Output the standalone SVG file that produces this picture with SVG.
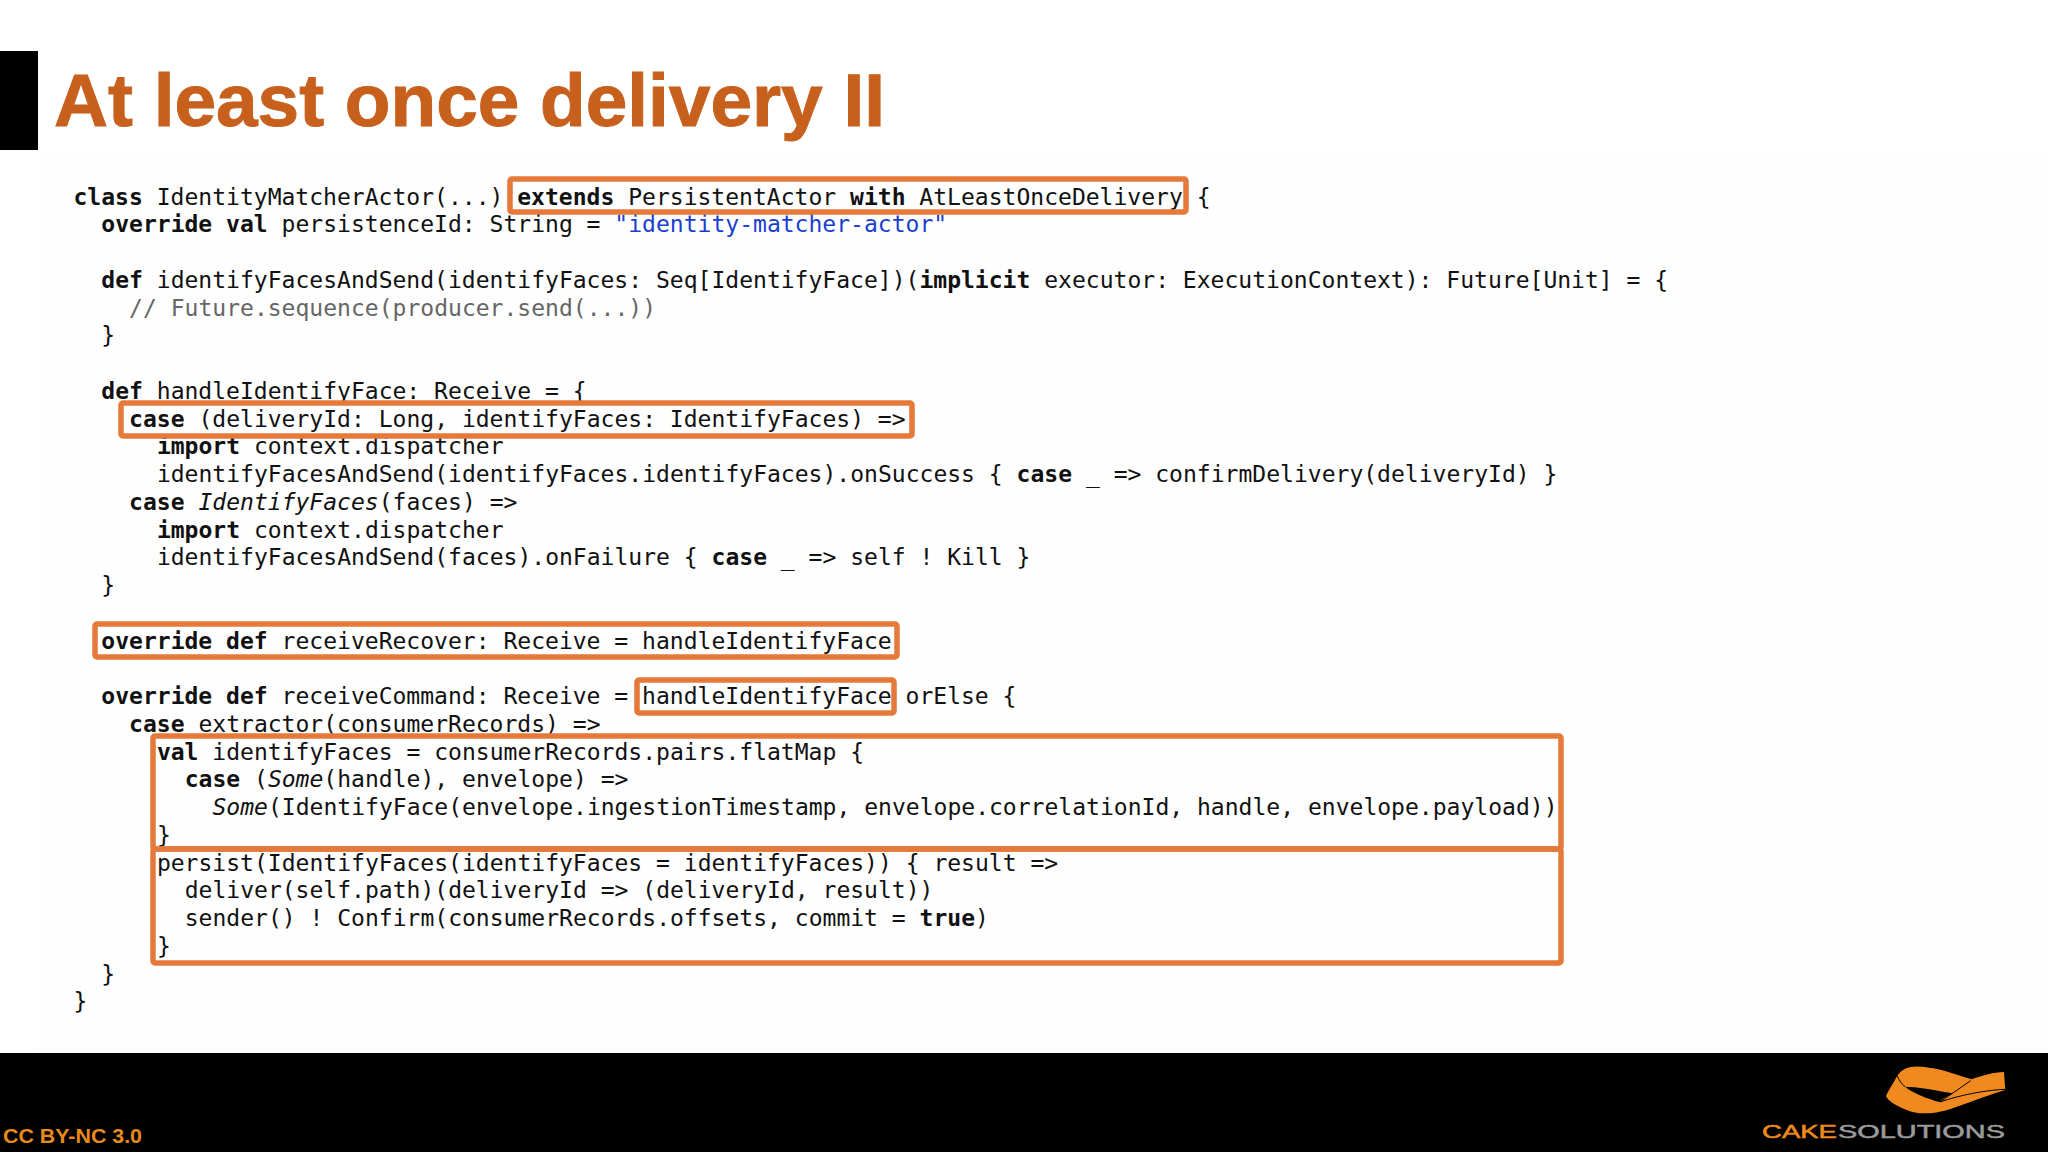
<svg xmlns="http://www.w3.org/2000/svg" width="2048" height="1152" viewBox="0 0 2048 1152">
<style>
.c{font-family:"DejaVu Sans Mono","Liberation Mono",monospace;font-size:23.04px;fill:#111;white-space:pre}
.c .b{font-weight:bold}
.c .i{font-style:italic}
.box{fill:none;stroke:#e5793a;stroke-width:5.5;stroke-linejoin:round}
.sans{font-family:"Liberation Sans",Arial,sans-serif}
</style>
<rect width="2048" height="1152" fill="#fff"/>
<rect x="38" y="150" width="2010" height="903" fill="#fefefe"/>
<rect id="title-bar" x="0" y="51" width="38" height="99" fill="#000"/>
<text id="title" class="sans" x="54" y="126" font-size="75" font-weight="bold" fill="#c8601d" stroke="#c8601d" stroke-width="1" textLength="831" lengthAdjust="spacingAndGlyphs">At least once delivery II</text>
<g id="code">
<text class="c" x="73.5" y="204.5"><tspan class="b">class</tspan> IdentityMatcherActor(...) <tspan class="b">extends</tspan> PersistentActor <tspan class="b">with</tspan> AtLeastOnceDelivery {</text>
<text class="c" x="101.3" y="232.3"><tspan class="b">override val</tspan> persistenceId: String = <tspan fill="#1a3fd0">"identity-matcher-actor"</tspan></text>
<text class="c" x="101.3" y="287.8"><tspan class="b">def</tspan> identifyFacesAndSend(identifyFaces: Seq[IdentifyFace])(<tspan class="b">implicit</tspan> executor: ExecutionContext): Future[Unit] = {</text>
<text class="c" x="129.1" y="315.5" style="fill:#666">// Future.sequence(producer.send(...))</text>
<text class="c" x="101.3" y="343.3">}</text>
<text class="c" x="101.3" y="398.8"><tspan class="b">def</tspan> handleIdentifyFace: Receive = {</text>
<text class="c" x="129.1" y="426.5"><tspan class="b">case</tspan> (deliveryId: Long, identifyFaces: IdentifyFaces) =&gt;</text>
<text class="c" x="156.9" y="454.3"><tspan class="b">import</tspan> context.dispatcher</text>
<text class="c" x="156.9" y="482"><tspan class="b"></tspan>identifyFacesAndSend(identifyFaces.identifyFaces).onSuccess { <tspan class="b">case</tspan> _ =&gt; confirmDelivery(deliveryId) }</text>
<text class="c" x="129.1" y="509.8"><tspan class="b">case</tspan> <tspan class="i">IdentifyFaces</tspan>(faces) =&gt;</text>
<text class="c" x="156.9" y="537.5"><tspan class="b">import</tspan> context.dispatcher</text>
<text class="c" x="156.9" y="565.3">identifyFacesAndSend(faces).onFailure { <tspan class="b">case</tspan> _ =&gt; self ! Kill }</text>
<text class="c" x="101.3" y="593">}</text>
<text class="c" x="101.3" y="648.5"><tspan class="b">override def</tspan> receiveRecover: Receive = handleIdentifyFace</text>
<text class="c" x="101.3" y="704"><tspan class="b">override def</tspan> receiveCommand: Receive = handleIdentifyFace orElse {</text>
<text class="c" x="129.1" y="731.8"><tspan class="b">case</tspan> extractor(consumerRecords) =&gt;</text>
<text class="c" x="156.9" y="759.5"><tspan class="b">val</tspan> identifyFaces = consumerRecords.pairs.flatMap {</text>
<text class="c" x="184.7" y="787.3"><tspan class="b">case</tspan> (<tspan class="i">Some</tspan>(handle), envelope) =&gt;</text>
<text class="c" x="212.5" y="815"><tspan class="i">Some</tspan>(IdentifyFace(envelope.ingestionTimestamp, envelope.correlationId, handle, envelope.payload))</text>
<text class="c" x="156.9" y="842.8">}</text>
<text class="c" x="156.9" y="870.5">persist(IdentifyFaces(identifyFaces = identifyFaces)) { result =&gt;</text>
<text class="c" x="184.7" y="898.3">deliver(self.path)(deliveryId =&gt; (deliveryId, result))</text>
<text class="c" x="184.7" y="926">sender() ! Confirm(consumerRecords.offsets, commit = <tspan class="b">true</tspan>)</text>
<text class="c" x="156.9" y="953.8">}</text>
<text class="c" x="101.3" y="981.5">}</text>
<text class="c" x="73.5" y="1009.3">}</text>
</g>
<g id="highlights">
<rect id="box-extends" class="box" x="510" y="179" width="676" height="33" rx="2"/>
<rect id="box-case" class="box" x="121" y="403" width="791" height="33" rx="2"/>
<rect id="box-recover" class="box" x="95" y="624" width="802" height="33" rx="2"/>
<rect id="box-handle" class="box" x="637" y="680" width="257" height="33" rx="2"/>
<rect id="box-flatmap" class="box" x="153" y="736" width="1408" height="113" rx="2"/>
<rect id="box-persist" class="box" x="153" y="849" width="1408" height="114" rx="2"/>
</g>
<g id="footer">
<rect x="0" y="1053" width="2048" height="99" fill="#000"/>
<text class="sans" x="3" y="1143" font-size="21" font-weight="bold" fill="#e88a1a" textLength="139" lengthAdjust="spacingAndGlyphs">CC BY-NC 3.0</text>
<g id="logo">
<path transform="translate(1700 1040) scale(.3333)" fill="#f08a1e" d="M590 110C610 75 650 75 700 85C750 95 790 112 815 118C850 105 880 97 912 96L916 150C880 160 830 180 770 200C720 220 660 228 620 210C590 197 565 185 558 168C565 150 580 130 590 110Z"/>
<path transform="translate(1700 1040) scale(.3333)" fill="#000" d="M615 140C650 140 700 150 760 160C740 170 725 178 718 186C680 175 640 160 615 140Z"/>
<path transform="translate(1700 1040) scale(.3333)" fill="none" stroke="#000" stroke-width="3" d="M592 108C598 122 605 132 615 140M720 186L812 122M720 186C780 165 860 150 916 148"/>
<text class="sans" x="1762" y="1138" font-size="18.5" fill="#f08a1e" stroke="#f08a1e" stroke-width=".5" textLength="75" lengthAdjust="spacingAndGlyphs">CAKE</text>
<text class="sans" x="1838" y="1138" font-size="18.5" fill="#9a9a9a" stroke="#9a9a9a" stroke-width=".5" textLength="167" lengthAdjust="spacingAndGlyphs">SOLUTIONS</text>
</g>
</g>
</svg>
